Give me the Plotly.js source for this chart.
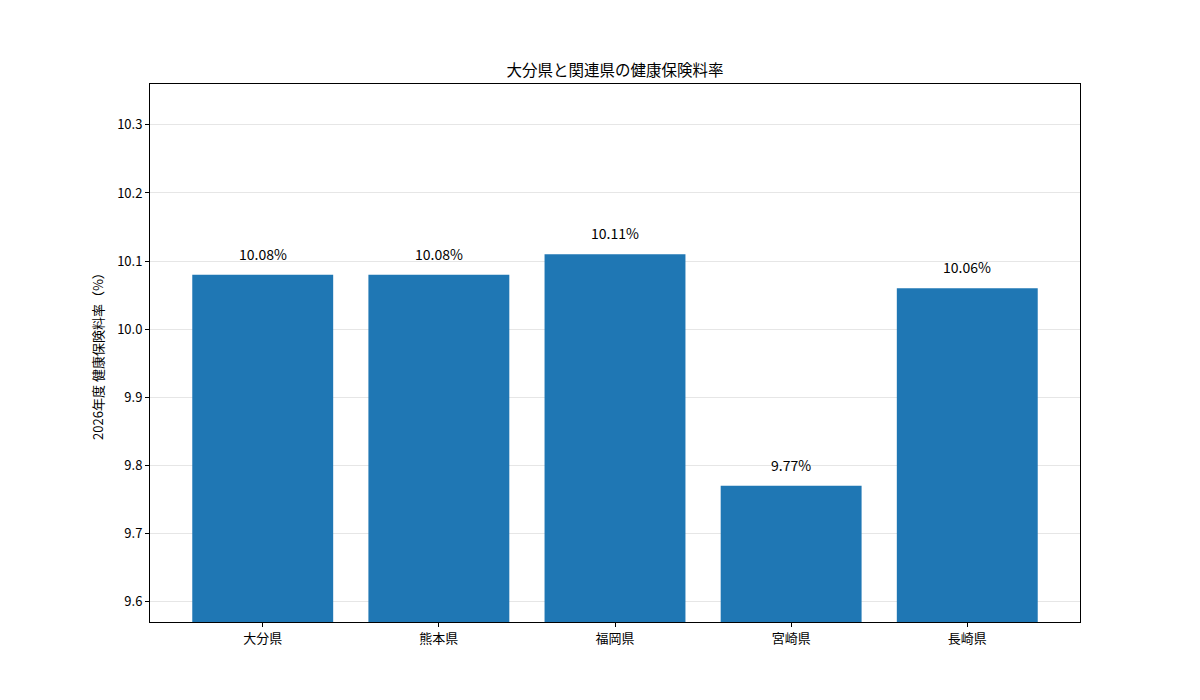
<!DOCTYPE html>
<html>
<head>
<meta charset="utf-8">
<script src="https://cdn.plot.ly/plotly-3.0.1.min.js"></script>
<style>body{margin:0;background:#fff}</style>
</head>
<body>
<div id="divGraph" style="width:1200px;height:700px"></div>
<script>
var prefs = ['大分県', '熊本県', '福岡県', '宮崎県', '長崎県'];
var rates = [10.08, 10.08, 10.11, 9.77, 10.06];
var yTicks = [9.6, 9.7, 9.8, 9.9, 10.0, 10.1, 10.2, 10.3];

var font = 'Noto Sans CJK JP, Noto Sans, sans-serif';

var trace1 = {
    x: prefs,
    y: rates,
    type: 'bar',
    width: 0.8,
    marker: {color: '#1f77b4'},
    hoverinfo: 'none'
};

// labels above each bar
var notes = [];
for (var i = 0; i < prefs.length; i++) {
    notes.push({
        x: prefs[i], y: rates[i], xref: 'x', yref: 'y',
        text: rates[i].toFixed(2) + '%',
        showarrow: false, yanchor: 'bottom', yshift: 9,
        font: {family: font, size: 14, color: '#000'}
    });
}

var layout = {
    width: 1200, height: 700,
    margin: {l: 150, r: 120, t: 84, b: 78},
    paper_bgcolor: '#fff', plot_bgcolor: '#fff',
    font: {family: font, size: 12, color: '#000'},
    title: {text: '大分県と関連県の健康保険料率', font: {size: 15.5, color: '#000'},
        x: 0.5, xanchor: 'center', xref: 'paper', y: 1, yanchor: 'bottom', yref: 'paper', pad: {b: 8}},
    showlegend: false,
    bargap: 0.2,
    xaxis: {
        range: [-0.64, 4.64],
        showline: true, linecolor: '#000', linewidth: 1, mirror: true,
        ticks: 'outside', ticklen: 4, tickcolor: '#000',
        showgrid: false, zeroline: false,
        tickfont: {size: 13}
    },
    yaxis: {
        range: [9.57, 10.36],
        tickvals: yTicks,
        ticktext: yTicks.map(function(v){ return v.toFixed(1); }),
        showline: true, linecolor: '#000', linewidth: 1, mirror: true,
        ticks: 'outside', ticklen: 4, tickcolor: '#000',
        showgrid: true, gridcolor: '#e6e6e6', gridwidth: 1, zeroline: false,
        tickfont: {size: 13},
        title: {text: '2026年度 健康保険料率（%）', font: {size: 13}, standoff: 10}
    },
    annotations: notes
};

Plotly.newPlot('divGraph', [trace1], layout, {displayModeBar: false, staticPlot: true});
</script>
</body>
</html>
